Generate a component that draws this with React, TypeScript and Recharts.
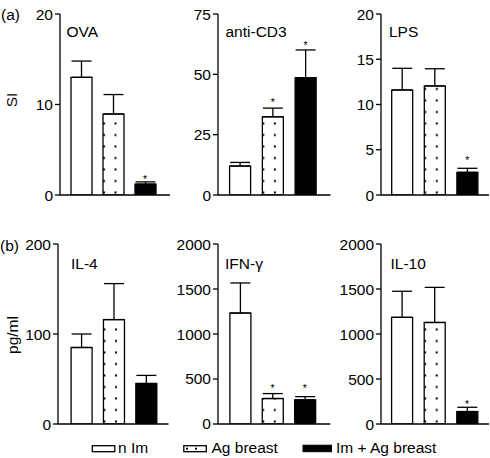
import React from 'react';
import { ComposedChart, Bar, ErrorBar, Scatter, XAxis, YAxis } from 'recharts';

// ---------- data ----------
const groups = ['n Im', 'Ag breast', 'Im + Ag breast'];

const ovaMean = [13.0, 8.95, 1.2];
const ovaSem = [1.8, 2.15, 0.25];
const ovaStar = [null, null, 2.0];

const cd3Mean = [12.0, 32.4, 48.6];
const cd3Sem = [1.5, 3.6, 11.5];
const cd3Star = [null, 39.4, 63.1];

const lpsMean = [11.6, 12.05, 2.5];
const lpsSem = [2.4, 1.9, 0.45];
const lpsStar = [null, null, 4.1];

const il4Mean = [85, 116, 45];
const il4Sem = [15, 40, 9];
const il4Star = [null, null, null];

const ifnMean = [1233, 283, 268];
const ifnSem = [334, 55, 36];
const ifnStar = [null, 422, 422];

const il10Mean = [1185, 1128, 138];
const il10Sem = [290, 390, 48];
const il10Star = [null, null, 248];

const siTicks = [0, 10, 20];
const cd3Ticks = [0, 25, 50, 75];
const lpsTicks = [0, 5, 10, 15, 20];
const il4Ticks = [0, 100, 200];
const cytTicks = [0, 500, 1000, 1500, 2000];

// ---------- helpers ----------
const FONT = '"Liberation Sans", Arial, Helvetica, sans-serif';
const YW = 52;
const MT = 10;
const MB = 12;
const XH = 1;

function buildRows(mean: number[], sem: number[], star: (number | null)[]) {
  return groups.map((g, i) => ({ group: g, mean: mean[i], err: [0, sem[i]], star: star[i] }));
}

function BarShape(props: any) {
  const { x, y, width, height, payload, pid } = props;
  const k = groups.indexOf(payload?.group);
  const sw = 1.3;
  if (k === 1) {
    const id = `dots-${pid}`;
    return (
      <g>
        <defs>
          <pattern id={id} patternUnits="userSpaceOnUse" x={x} y={y + height} width={11.5} height={11.5}>
            <rect x={0} y={8} width={2} height={2} fill="#000" />
          </pattern>
        </defs>
        <rect x={x} y={y} width={width} height={height} fill="#fff" stroke="#000" strokeWidth={sw} />
        <rect x={x} y={y} width={width} height={height} fill={`url(#${id})`} stroke="none" />
      </g>
    );
  }
  return (
    <rect x={x} y={y} width={width} height={height} fill={k === 2 ? '#000' : '#fff'} stroke="#000" strokeWidth={sw} />
  );
}

function StarShape(props: any) {
  const { cx, cy, payload } = props;
  if (!payload || payload.star == null || cy == null || isNaN(cy)) return <g />;
  return (
    <text x={cx} y={cy + 6} textAnchor="middle" fontSize={10.5} fontFamily={FONT} fill="#000" stroke="none">
      *
    </text>
  );
}

type PanelProps = {
  id: string;
  rows: any[];
  max: number;
  ticks: number[];
  axisX: number;
  endX: number;
  topY: number;
  zeroY: number;
  padL: number;
  padR: number;
};

function Panel(p: PanelProps) {
  const left = p.axisX - YW;
  const top = p.topY - MT;
  const width = p.endX - left + 1;
  const height = MT + (p.zeroY - p.topY) + XH + MB;
  return (
    <div style={{ position: 'absolute', left, top }}>
      <ComposedChart
        width={width}
        height={height}
        data={p.rows}
        margin={{ top: MT, right: 1, bottom: MB, left: 0 }}
        barSize={21}
      >
        <XAxis
          dataKey="group"
          type="category"
          height={XH}
          tick={false}
          tickLine={false}
          axisLine={{ stroke: '#000', strokeWidth: 1.3 }}
          padding={{ left: p.padL, right: p.padR }}
        />
        <YAxis
          type="number"
          domain={[0, p.max]}
          ticks={p.ticks}
          interval={0}
          width={YW}
          tickSize={5}
          tickMargin={2}
          allowDataOverflow
          axisLine={{ stroke: '#000', strokeWidth: 1.3 }}
          tickLine={{ stroke: '#000', strokeWidth: 1.3 }}
          tick={{ fill: '#000', fontSize: 15.5, fontFamily: FONT }}
        />
        <Bar dataKey="mean" isAnimationActive={false} shape={(s: any) => <BarShape {...s} pid={p.id} />}>
          <ErrorBar dataKey="err" width={10} stroke="#000" strokeWidth={1.3} direction="y" />
        </Bar>
        <Scatter dataKey="star" fill="#000" isAnimationActive={false} shape={(s: any) => <StarShape {...s} />} />
      </ComposedChart>
    </div>
  );
}

const txt = { fontFamily: FONT, fontSize: 15.5, fill: '#000' } as const;

export default function App() {
  return (
    <div style={{ position: 'absolute', left: 0, top: 0, width: 490, height: 458, background: '#fff', overflow: 'hidden' }}>
      <Panel id="ova" rows={buildRows(ovaMean, ovaSem, ovaStar)} max={20} ticks={siTicks} axisX={60} endX={170} topY={14} zeroY={195} padL={5} padR={9} />
      <Panel id="cd3" rows={buildRows(cd3Mean, cd3Sem, cd3Star)} max={75} ticks={cd3Ticks} axisX={217.5} endX={330} topY={14} zeroY={195} padL={5.6} padR={8.6} />
      <Panel id="lps" rows={buildRows(lpsMean, lpsSem, lpsStar)} max={20} ticks={lpsTicks} axisX={381} endX={489} topY={14} zeroY={195} padL={4.7} padR={5.5} />
      <Panel id="il4" rows={buildRows(il4Mean, il4Sem, il4Star)} max={200} ticks={il4Ticks} axisX={57.5} endX={168} topY={244} zeroY={424} padL={7.1} padR={6.3} />
      <Panel id="ifn" rows={buildRows(ifnMean, ifnSem, ifnStar)} max={2000} ticks={cytTicks} axisX={217.7} endX={330} topY={244} zeroY={424} padL={5.9} padR={9.3} />
      <Panel id="il10" rows={buildRows(il10Mean, il10Sem, il10Star)} max={2000} ticks={cytTicks} axisX={381} endX={489} topY={244} zeroY={424} padL={4.6} padR={5.6} />

      <svg width={490} height={458} style={{ position: 'absolute', left: 0, top: 0, pointerEvents: 'none' }}>
        <text x={1} y={19.5} {...txt}>(a)</text>
        <text x={0} y={250.5} {...txt}>(b)</text>
        <text x={17} y={100} textAnchor="middle" transform="rotate(-90 17 100)" {...txt}>SI</text>
        <text x={18} y={335} textAnchor="middle" transform="rotate(-90 18 335)" {...txt}>pg/ml</text>

        <text x={66.5} y={36.5} {...txt}>OVA</text>
        <text x={225.5} y={36.5} {...txt}>anti-CD3</text>
        <text x={389} y={36.5} {...txt}>LPS</text>
        <text x={71} y={268.5} {...txt}>IL-4</text>
        <text x={225} y={268.5} {...txt}>IFN-γ</text>
        <text x={390.5} y={268.5} {...txt}>IL-10</text>

        <rect x={92.3} y={445.7} width={22.5} height={6} fill="#fff" stroke="#000" strokeWidth={1.3} />
        <text x={118} y={453.3} {...txt}>{groups[0]}</text>
        <rect x={183.8} y={445.7} width={22.5} height={6} fill="#fff" stroke="#000" strokeWidth={1.3} />
        <rect x={186} y={447.7} width={2} height={2} fill="#000" />
        <rect x={195} y={447.7} width={2} height={2} fill="#000" />
        <text x={211.5} y={453.3} {...txt}>{groups[1]}</text>
        <rect x={303} y={445.2} width={28.5} height={6.5} fill="#000" stroke="#000" strokeWidth={1} />
        <text x={336} y={453.3} {...txt}>{groups[2]}</text>
      </svg>
    </div>
  );
}
